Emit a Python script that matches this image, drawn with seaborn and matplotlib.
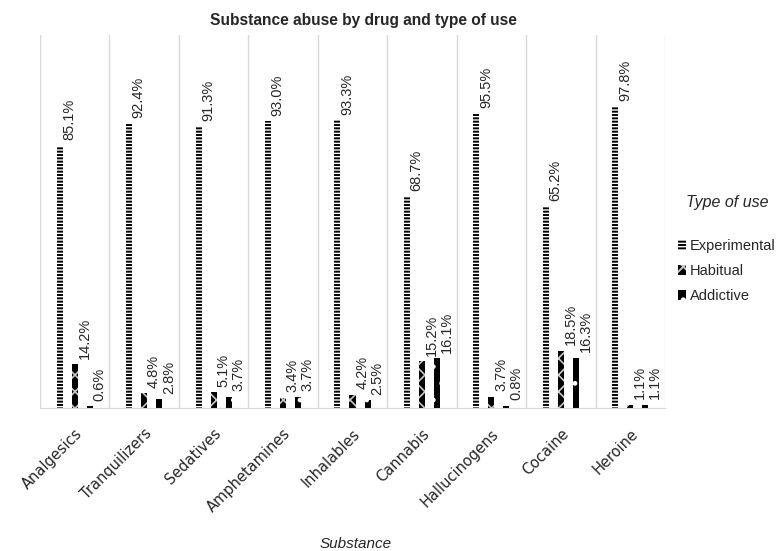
import matplotlib
matplotlib.use("Agg")
import matplotlib.pyplot as plt
import seaborn as sns
import pandas as pd
from matplotlib.patches import Patch

substances = ["Analgesics", "Tranquilizers", "Sedatives", "Amphetamines", "Inhalables",
              "Cannabis", "Hallucinogens", "Cocaine", "Heroine"]
experimental = [85.1, 92.4, 91.3, 93.0, 93.3, 68.7, 95.5, 65.2, 97.8]
habitual = [14.2, 4.8, 5.1, 3.4, 4.2, 15.2, 3.7, 18.5, 1.1]
addictive = [0.6, 2.8, 3.7, 3.7, 2.5, 16.1, 0.8, 16.3, 1.1]
types = ["Experimental", "Habitual", "Addictive"]

rows = []
for s, e, h, a in zip(substances, experimental, habitual, addictive):
    rows += [(s, "Experimental", e), (s, "Habitual", h), (s, "Addictive", a)]
df = pd.DataFrame(rows, columns=["Substance", "Type", "Value"])

sns.set_style("white")
plt.rcParams['font.family'] = ['Liberation Sans', 'DejaVu Sans']
plt.rcParams['hatch.linewidth'] = 1.4

fig = plt.figure(figsize=(7.8, 5.51), dpi=100)
ax = fig.add_axes([40/780, 1-408/551, 625/780, (408-35)/551])

sns.barplot(data=df, x="Substance", y="Value", hue="Type", order=substances,
            hue_order=types, width=0.65, gap=0.6, ax=ax, legend=False)

styles = {
    "Experimental": dict(facecolor="white", edgecolor="black", hatch="-----", hlw=1.4),
    "Habitual": dict(facecolor="black", edgecolor="#c8c8c8", hatch="xx", hlw=1.2),
    "Addictive": dict(facecolor="black", edgecolor="white", hatch=".", hlw=1.0),
}
for cont, t in zip(ax.containers, types):
    st = styles[t]
    for p in cont:
        p.set_facecolor(st["facecolor"])
        p.set_edgecolor(st["edgecolor"])
        p.set_hatch(st["hatch"])
        if hasattr(p, "set_hatch_linewidth"):
            p.set_hatch_linewidth(st["hlw"])
        p.set_linewidth(0)
    for p, v in zip(cont, cont.datavalues):
        ax.annotate(f"{v:.1f}%", (p.get_x() + p.get_width()/2, p.get_height()),
                    xytext=(7, 4), textcoords="offset points", rotation=90,
                    ha="center", va="bottom", fontsize=10.5, color="#262626")

ax.set_xlim(-0.5, 8.5)
ax.set_ylim(0, 121)
for xb in [i - 0.5 for i in range(10)]:
    ax.axvline(xb, color="#d9d9d9", lw=1, zorder=0)
for sp in ["top", "right", "left"]:
    ax.spines[sp].set_visible(False)
ax.spines["bottom"].set_color("#d9d9d9")
ax.set_yticks([])
ax.set_ylabel("")
ax.tick_params(axis="x", length=0, pad=13)
ax.set_xticks(range(len(substances)))
ax.set_xticklabels(substances, rotation=45, ha="right", rotation_mode="anchor",
                   fontsize=10.5, color="#262626", family=["DejaVu Sans"])
ax.set_xlabel("Substance", fontstyle="italic", fontsize=11, color="#262626")
ax.xaxis.set_label_coords(0.505, -0.345)

fig.text(363/780, 1-20/551, "Substance abuse by drug and type of use", fontweight="bold",
         fontsize=11.2, ha="center", va="center")

handles = [Patch(facecolor=styles[t]["facecolor"], edgecolor=styles[t]["edgecolor"],
                 hatch=styles[t]["hatch"], lw=0, label=t) for t in types]
leg = fig.legend(handles=handles, title="Type of use", loc="center left",
                 bbox_to_anchor=(0.853, 0.548), frameon=False, fontsize=10.5,
                 handlelength=0.5, handleheight=0.7, handletextpad=0.3,
                 labelspacing=0.75)
leg.get_title().set_fontstyle("italic")
leg.get_title().set_fontsize(11.5)
leg._legend_box.sep = 21

fig.savefig("out.png", dpi=100)
